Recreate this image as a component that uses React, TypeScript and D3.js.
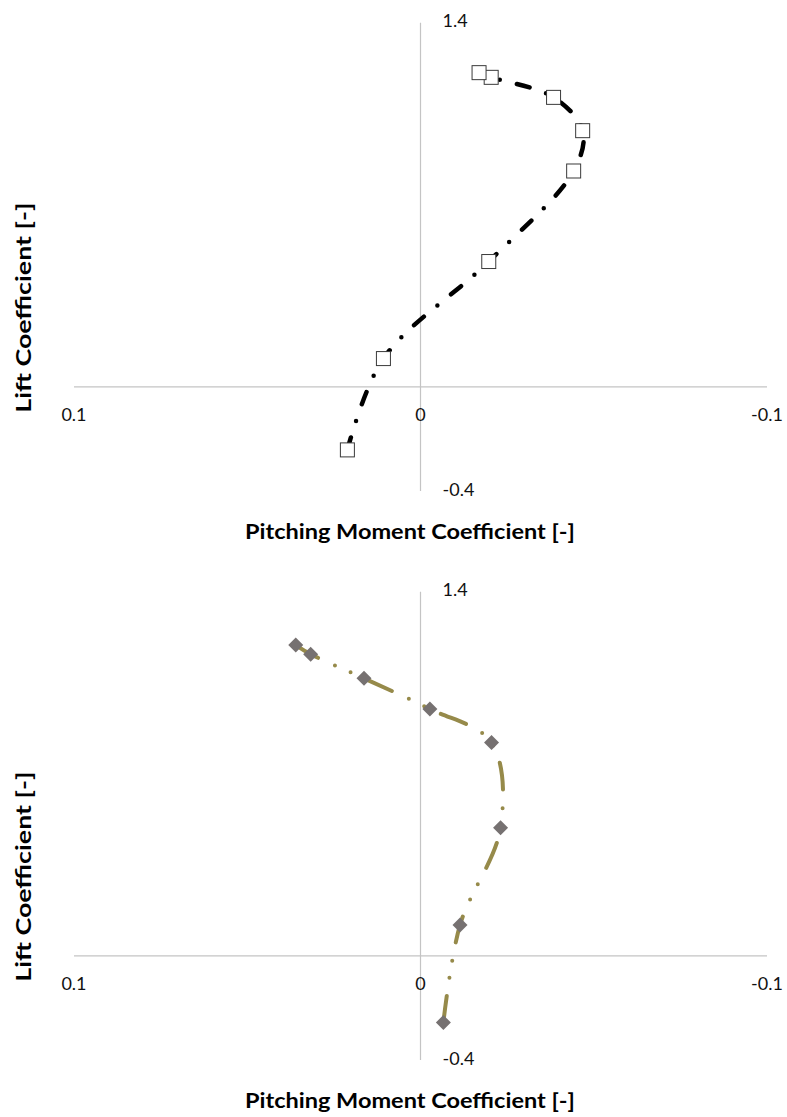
import React, { useEffect, useRef } from 'react'
import * as d3 from 'd3'

// axis ticks
const cmTicks = [0.1, 0, -0.1]
const cmTickLabels = ['0.1', '0', '-0.1']
const clTicks = [1.4, -0.4]
const clTickLabels = ['1.4', '-0.4']

// upper chart (square markers), ordered from lowest lift upward
const cmUpper = [0.0211, 0.0107, -0.0197, -0.0442, -0.0468, -0.0384, -0.0204, -0.0169]
const clUpper = [-0.242, 0.109, 0.482, 0.830, 0.985, 1.113, 1.190, 1.208]

// lower chart (diamond markers)
const cmLower = [-0.0066, -0.0114, -0.0231, -0.0205, -0.0027, 0.0163, 0.0317, 0.0360]
const clLower = [-0.256, 0.119, 0.493, 0.820, 0.949, 1.067, 1.160, 1.195]

const xTitle = 'Pitching Moment Coefficient [-]'
const yTitle = 'Lift Coefficient [-]'

const width = 787
const height = 1117
const font = 'Lato, "Open Sans", sans-serif'

type PanelOpts = {
    top: number
    cm: number[]
    cl: number[]
    lineColor: string
    dash: string
    lineWidth: number
    marker: 'square' | 'diamond'
}

const drawPanel = (svg: d3.Selection<SVGSVGElement, unknown, null, undefined>, o: PanelOpts) => {
    const xScale = d3.scaleLinear().domain([0.1, -0.1]).range([74, 767])
    const yScale = d3.scaleLinear().domain([-0.4, 1.4]).range([o.top + 468.3, o.top])

    const g = svg.append('g')

    // axes cross at zero
    g.append('line')
        .attr('x1', xScale(0.1)).attr('x2', xScale(-0.1))
        .attr('y1', yScale(0)).attr('y2', yScale(0))
        .attr('stroke', '#c4c4c4').attr('stroke-width', 1.2)
    g.append('line')
        .attr('x1', xScale(0)).attr('x2', xScale(0))
        .attr('y1', yScale(1.4)).attr('y2', yScale(-0.4))
        .attr('stroke', '#c4c4c4').attr('stroke-width', 1.2)

    g.selectAll('.xtick')
        .data(cmTicks)
        .join('text')
        .attr('class', 'xtick')
        .attr('x', d => xScale(d))
        .attr('y', yScale(0) + 30)
        .attr('text-anchor', 'middle')
        .attr('dominant-baseline', 'middle')
        .attr('font-family', font)
        .attr('font-size', 18)
        .attr('fill', '#111')
        .text((d, i) => cmTickLabels[i])

    g.selectAll('.ytick')
        .data(clTicks)
        .join('text')
        .attr('class', 'ytick')
        .attr('x', xScale(0) + 22)
        .attr('y', d => yScale(d))
        .attr('dominant-baseline', 'middle')
        .attr('font-family', font)
        .attr('font-size', 18)
        .attr('fill', '#111')
        .text((d, i) => clTickLabels[i])

    // titles
    g.append('text')
        .attr('x', 410)
        .attr('y', yScale(-0.4) + 43)
        .attr('text-anchor', 'middle')
        .attr('dominant-baseline', 'middle')
        .attr('font-family', font)
        .attr('font-weight', 'bold')
        .attr('font-size', 21)
        .attr('textLength', 330)
        .attr('lengthAdjust', 'spacingAndGlyphs')
        .attr('fill', '#000')
        .text(xTitle)

    g.append('text')
        .attr('transform', `translate(26,${o.top + 285}) rotate(-90)`)
        .attr('text-anchor', 'middle')
        .attr('dominant-baseline', 'middle')
        .attr('font-family', font)
        .attr('font-weight', 'bold')
        .attr('font-size', 21)
        .attr('textLength', 210)
        .attr('lengthAdjust', 'spacingAndGlyphs')
        .attr('fill', '#000')
        .text(yTitle)

    const pts = o.cm.map((c, i) => [xScale(c), yScale(o.cl[i])] as [number, number])

    const curve = d3.line()
        .x(d => d[0])
        .y(d => d[1])
        .curve(d3.curveCatmullRom.alpha(0.5))

    g.append('path')
        .attr('d', curve(pts))
        .attr('fill', 'none')
        .attr('stroke', o.lineColor)
        .attr('stroke-width', o.lineWidth)
        .attr('stroke-linecap', 'round')
        .attr('stroke-dasharray', o.dash)

    if (o.marker === 'square') {
        g.selectAll('.mark')
            .data(pts)
            .join('rect')
            .attr('class', 'mark')
            .attr('x', d => d[0] - 7)
            .attr('y', d => d[1] - 7)
            .attr('width', 14)
            .attr('height', 14)
            .attr('fill', '#fff')
            .attr('stroke', '#3a3a3a')
            .attr('stroke-width', 1)
    } else {
        g.selectAll('.mark')
            .data(pts)
            .join('path')
            .attr('class', 'mark')
            .attr('d', d => `M${d[0]},${d[1] - 7.5}L${d[0] + 7.5},${d[1]}L${d[0]},${d[1] + 7.5}L${d[0] - 7.5},${d[1]}Z`)
            .attr('fill', '#767171')
    }
}

const App = () => {
    const ref = useRef<SVGSVGElement>(null)

    useEffect(() => {
        const svg = d3.select(ref.current)
        svg.selectAll('*').remove()

        drawPanel(svg, {
            top: 22.7, cm: cmUpper, cl: clUpper,
            lineColor: '#000', dash: '13 17.5 0 17.5', lineWidth: 4.5, marker: 'square'
        })
        drawPanel(svg, {
            top: 591.7, cm: cmLower, cl: clLower,
            lineColor: '#968a4a', dash: '27 18.5 0 17 0 18.5', lineWidth: 4, marker: 'diamond'
        })
    }, [])

    return (
        <svg ref={ref} width={width} height={height}
            style={{ position: 'absolute', left: 0, top: 0, background: '#fff' }} />
    )
}

export default App
